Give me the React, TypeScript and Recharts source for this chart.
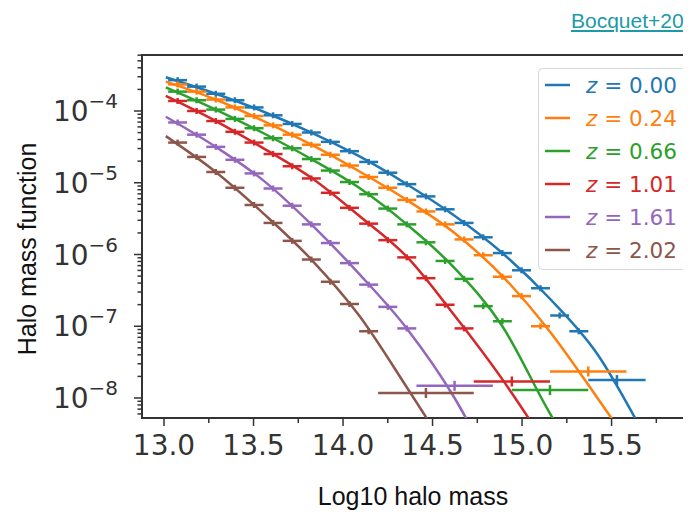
import React from 'react';
import { ComposedChart, Line, Scatter, XAxis, YAxis, ErrorBar, Legend, ReferenceArea, Label } from 'recharts';

// ---------- labels / colours ----------
const redshiftLabels = ['0.00', '0.24', '0.66', '1.01', '1.61', '2.02'];
const seriesColors = ['#1f77b4', '#ff7f0e', '#2ca02c', '#d62728', '#9467bd', '#8c564b'];

// ---------- axis ticks ----------
const xMajorTicks = [13.0, 13.5, 14.0, 14.5, 15.0, 15.5];
const xMinorTicks = [13.25, 13.75, 14.25, 14.75, 15.25, 15.75];
const yMajorExponents = [-8, -7, -6, -5, -4];

// ---------- narrow mass bins (centres, log10 mass) ----------
const binCenters = [13.076, 13.182, 13.289, 13.396, 13.503, 13.609, 13.716, 13.823, 13.929, 14.036, 14.143,
  14.25, 14.356, 14.463, 14.57, 14.676, 14.783, 14.89, 14.997, 15.103, 15.21, 15.317];
const narrowHalfWidth = 0.053;

// measured halo mass function (log10) in the narrow bins
const hmfZ000 = [-3.57, -3.66, -3.76, -3.85, -3.95, -4.06, -4.18, -4.30, -4.43, -4.56, -4.71,
  -4.86, -5.02, -5.19, -5.37, -5.56, -5.76, -5.98, -6.22, -6.47, -6.85, -7.07];
const hmfZ024 = [-3.63, -3.73, -3.84, -3.95, -4.07, -4.20, -4.33, -4.47, -4.61, -4.76, -4.92,
  -5.07, -5.24, -5.40, -5.58, -5.79, -6.01, -6.31, -6.58, -7.00];
const hmfZ066 = [-3.73, -3.85, -3.98, -4.11, -4.24, -4.38, -4.52, -4.67, -4.83, -4.99, -5.16,
  -5.36, -5.58, -5.83, -6.09, -6.34, -6.72, -6.93];
const hmfZ101 = [-3.86, -4.00, -4.14, -4.29, -4.44, -4.60, -4.77, -4.94, -5.14, -5.35, -5.57,
  -5.80, -6.04, -6.33, -6.70, -7.03];
const hmfZ161 = [-4.16, -4.33, -4.50, -4.68, -4.87, -5.08, -5.32, -5.58, -5.84, -6.12, -6.42,
  -6.73, -7.03];
const hmfZ202 = [-4.44, -4.64, -4.85, -5.07, -5.31, -5.56, -5.81, -6.07, -6.38, -6.69, -7.07];

// last (wide) bin of each redshift
const wideCenter = [15.53, 15.37, 15.156, 14.943, 14.623, 14.463];
const wideLow = [15.37, 15.156, 14.943, 14.73, 14.41, 14.196];
const wideHigh = [15.69, 15.583, 15.37, 15.156, 14.837, 14.73];
const wideHmf = [-7.75, -7.63, -7.89, -7.77, -7.83, -7.93];

// ---------- model curves (log10) ----------
const curveMass = [13.01, 13.289, 13.556, 13.823, 14.09, 14.356, 14.623, 14.89, 15.157, 15.424];
const curveZ000 = [-3.53, -3.76, -4.01, -4.30, -4.63, -5.02, -5.46, -5.98, -6.62, -7.40];
const curveZ024 = [-3.59, -3.84, -4.14, -4.47, -4.84, -5.24, -5.70, -6.30, -7.08, -8.01];
const curveZ066 = [-3.67, -3.98, -4.31, -4.67, -5.07, -5.58, -6.19, -7.00, -8.22];
const curveZ101 = [-3.79, -4.14, -4.52, -4.93, -5.46, -6.03, -6.85, -7.74];
const curveZ161 = [-4.08, -4.50, -4.97, -5.58, -6.27, -7.03, -8.00];
const curveZ202 = [-4.35, -4.85, -5.43, -6.07, -6.85, -7.85];
// where each curve runs out of the bottom of the frame
const curveEndMass = [15.647, 15.519, 15.188, 15.055, 14.703, 14.485];
const curveEndHmf = [-8.35, -8.35, -8.35, -8.35, -8.35, -8.35];

const hmfSets = [hmfZ000, hmfZ024, hmfZ066, hmfZ101, hmfZ161, hmfZ202];
const curveSets = [curveZ000, curveZ024, curveZ066, curveZ101, curveZ161, curveZ202];

// ---------- axis ranges ----------
const X_DOMAIN: [number, number] = [12.877, 15.994];
const Y_DOMAIN: [number, number] = [Math.pow(10, -8.2787), Math.pow(10, -3.2195)];

const yMajorTicks = yMajorExponents.map((e) => Math.pow(10, e));
const yMinorTicks: number[] = [];
for (let e = -9; e <= -4; e++) {
  for (let k = 2; k <= 9; k++) {
    const v = k * Math.pow(10, e);
    if (v > Y_DOMAIN[0] && v < Y_DOMAIN[1]) yMinorTicks.push(v);
  }
}
const yTicks = [...yMajorTicks, ...yMinorTicks].sort((a, b) => a - b);
const xTicks = [...xMajorTicks, ...xMinorTicks].sort((a, b) => a - b);

const series = redshiftLabels.map((label, i) => {
  const pts: any[] = hmfSets[i].map((lv, j) => ({ m: binCenters[j], v: Math.pow(10, lv), xe: narrowHalfWidth, wide: false }));
  pts.push({
    m: wideCenter[i],
    v: Math.pow(10, wideHmf[i]),
    xe: [wideCenter[i] - wideLow[i], wideHigh[i] - wideCenter[i]],
    wide: true,
  });
  const curve = curveSets[i].map((lv, j) => ({ m: curveMass[j], v: Math.pow(10, lv) }));
  curve.push({ m: curveEndMass[i], v: Math.pow(10, curveEndHmf[i]) });
  return { label, color: seriesColors[i], pts, curve };
});

const TICK_COLOR = '#333';
const TICK_FONT = 'DejaVu Sans';

const XTick = (props: any) => {
  const { x, y, payload } = props;
  const v = payload.value;
  const major = xMajorTicks.some((t) => Math.abs(t - v) < 1e-9);
  return (
    <g>
      <line x1={x} x2={x} y1={y} y2={y + (major ? 8 : 5)} stroke={TICK_COLOR} strokeWidth={1.5} />
      {major && (
        <text x={x} y={y + 37} textAnchor="middle" fontSize={28} fontFamily={TICK_FONT} fill={TICK_COLOR}>
          {v.toFixed(1)}
        </text>
      )}
    </g>
  );
};

const YTick = (props: any) => {
  const { x, y, payload } = props;
  const v = payload.value;
  const lg = Math.log10(v);
  const e = Math.round(lg);
  const major = Math.abs(lg - e) < 1e-6;
  return (
    <g>
      <line x1={x - (major ? 8 : 4.5)} x2={x} y1={y} y2={y} stroke={TICK_COLOR} strokeWidth={1.5} />
      {major && (
        <text x={x - 24} y={y + 10} textAnchor="end" fontSize={28} fontFamily={TICK_FONT} fill={TICK_COLOR}>
          <tspan>10</tspan>
          <tspan dy={-13} fontSize={20}>{'\u2212' + String(-e)}</tspan>
        </text>
      )}
    </g>
  );
};

const makeMarker = (color: string) => (props: any) => {
  const { cx, cy, payload } = props;
  if (cx == null || cy == null) return <g />;
  const h = payload && payload.wide ? 5 : 3;
  return <line x1={cx} x2={cx} y1={cy - h} y2={cy + h} stroke={color} strokeWidth={2.5} />;
};

const renderLegend = () => (
  <svg width={148} height={202} style={{ display: 'block' }}>
    <rect x={0.5} y={0.5} width={147} height={201} rx={4} fill="rgba(255,255,255,0.85)" stroke="#d6d6d6" />
    {series.map((s, i) => (
      <g key={s.label}>
        <line x1={7} x2={32} y1={17 + 33 * i} y2={17 + 33 * i} stroke={s.color} strokeWidth={2.5} />
        <text x={48} y={17 + 33 * i + 7.5} fontSize={21.5} fontFamily={TICK_FONT} fill={s.color}>
          <tspan fontStyle="italic">z</tspan>
          {' = ' + s.label}
        </text>
      </g>
    ))}
  </svg>
);

export default function App() {
  return (
    <div style={{ position: 'relative', width: 683, height: 506, overflow: 'hidden', background: '#fff' }}>
      <ComposedChart width={700} height={506} margin={{ top: 47, right: 8, bottom: 36, left: 0 }}>
        <XAxis
          type="number"
          dataKey="m"
          domain={X_DOMAIN}
          allowDataOverflow
          ticks={xTicks}
          interval={0}
          tick={(p: any) => <XTick {...p} />}
          tickLine={false}
          axisLine={false}
          tickSize={0}
          tickMargin={0}
          height={60}
        >
          <Label
            content={() => (
              <text x={405} y={497} textAnchor="middle" fontSize={25} fontFamily="Liberation Sans" fill="#111">
                Log10 halo mass
              </text>
            )}
          />
        </XAxis>
        <YAxis
          type="number"
          scale="log"
          domain={Y_DOMAIN}
          allowDataOverflow
          ticks={yTicks}
          interval={0}
          tick={(p: any) => <YTick {...p} />}
          tickLine={false}
          axisLine={false}
          tickSize={0}
          tickMargin={0}
          width={134}
        >
          <Label
            content={() => (
              <text
                x={19}
                y={241}
                transform="rotate(-90, 19, 241)"
                textAnchor="middle"
                dominantBaseline="central"
                fontSize={25}
                fontFamily="Liberation Sans"
                fill="#111"
              >
                Halo mass function
              </text>
            )}
          />
        </YAxis>
        <ReferenceArea
          x1={X_DOMAIN[0]}
          x2={X_DOMAIN[1]}
          y1={Y_DOMAIN[0]}
          y2={Y_DOMAIN[1]}
          fill="none"
          stroke="#333"
          strokeWidth={2}
          ifOverflow="visible"
        />
        {series.map((s) => (
          <Line
            key={'l' + s.label}
            data={s.curve}
            dataKey="v"
            type="monotone"
            stroke={s.color}
            strokeWidth={2.5}
            dot={false}
            activeDot={false}
            isAnimationActive={false}
          />
        ))}
        {series.map((s) => (
          <Scatter
            key={'s' + s.label}
            data={s.pts}
            dataKey="v"
            fill={s.color}
            shape={makeMarker(s.color)}
            isAnimationActive={false}
          >
            <ErrorBar dataKey="xe" direction="x" width={0} stroke={s.color} strokeWidth={2.5} />
          </Scatter>
        ))}
        <Legend
          layout="vertical"
          align="center"
          verticalAlign="middle"
          content={renderLegend}
          wrapperStyle={{ left: 530, top: 60, width: 148, height: 202 }}
        />
      </ComposedChart>
      <div
        style={{
          position: 'absolute',
          left: 563,
          top: 1,
          fontFamily: 'Liberation Sans',
          fontSize: 21,
          color: '#1c9aa8',
          textDecoration: 'underline',
          whiteSpace: 'nowrap',
        }}
      >
        Bocquet+20
      </div>
    </div>
  );
}
